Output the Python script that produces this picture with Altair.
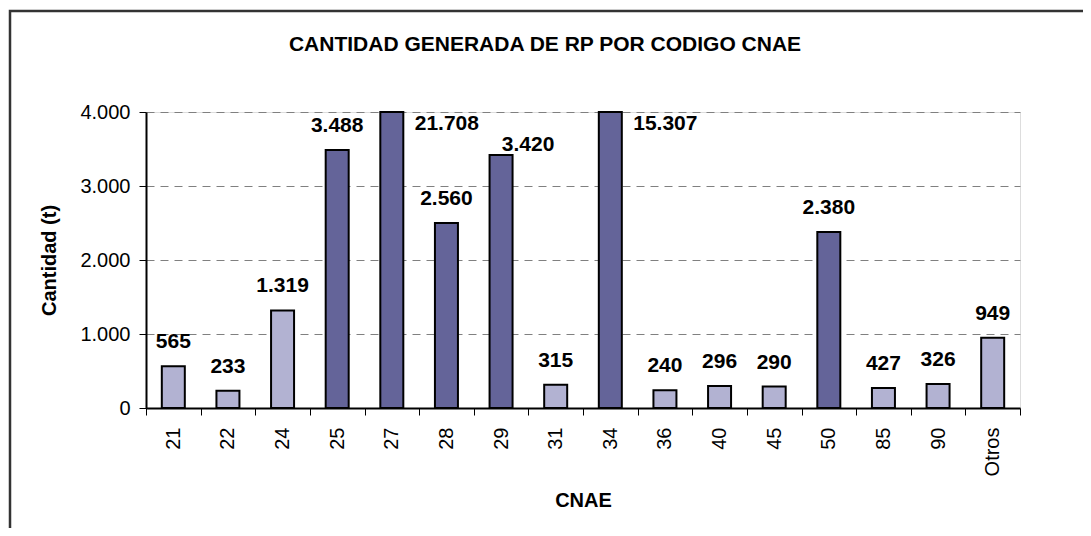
import altair as alt
import pandas as pd

# Data
cnae = ["21", "22", "24", "25", "27", "28", "29", "31", "34", "36", "40", "45", "50", "85", "90", "Otros"]
cantidad = [565, 233, 1319, 3488, 21708, 2500, 3420, 315, 15307, 240, 296, 290, 2380, 270, 326, 949]
etiqueta = [565, 233, 1319, 3488, 21708, 2560, 3420, 315, 15307, 240, 296, 290, 2380, 427, 326, 949]
grupo = ["b", "b", "b", "a", "a", "a", "a", "b", "a", "b", "b", "b", "a", "b", "b", "b"]
y_ticks = [0, 1000, 2000, 3000, 4000]
titulo = "CANTIDAD GENERADA DE RP POR CODIGO CNAE"

df = pd.DataFrame({"cnae": cnae, "cantidad": cantidad, "etiqueta": etiqueta, "grupo": grupo})

FONT = "Liberation Sans"

x_enc = alt.X(
    "cnae:N",
    sort=cnae,
    title="CNAE",
    scale=alt.Scale(paddingInner=0, paddingOuter=0),
    axis=alt.Axis(
        labelAngle=-90,
        labelFontSize=20,
        labelFont=FONT,
        labelColor="#000000",
        labelPadding=12,
        tickBand="extent",
        tickSize=7,
        tickColor="#000000",
        tickWidth=1,
        domainColor="#000000",
        domainWidth=2,
        titleFontSize=20,
        titleFont=FONT,
        titleFontWeight="bold",
        titlePadding=15,
        grid=False,
    ),
)

y_scale = alt.Scale(domain=[0, 4000], clamp=True, nice=False)

y_enc = alt.Y(
    "cantidad:Q",
    scale=y_scale,
    title="Cantidad (t)",
    axis=alt.Axis(
        values=y_ticks,
        labelExpr="replace(format(datum.value, ','), ',', '.')",
        labelFontSize=20,
        labelFont=FONT,
        labelColor="#000000",
        labelPadding=9,
        tickSize=7,
        tickColor="#000000",
        domainColor="#000000",
        domainWidth=2,
        grid=True,
        gridColor="#808080",
        gridDash=[8, 6],
        gridWidth=1,
        titleFontSize=20,
        titleFont=FONT,
        titleFontWeight="bold",
        titlePadding=20,
    ),
)

base = alt.Chart(df)

bars = base.mark_bar(width=23, stroke="#000000", strokeWidth=2).encode(
    x=x_enc,
    y=y_enc,
    color=alt.Color(
        "grupo:N",
        scale=alt.Scale(domain=["a", "b"], range=["#646499", "#B2B2D2"]),
        legend=None,
    ),
)

text_base = base.transform_calculate(
    txt="replace(format(datum.etiqueta, ','), ',', '.')"
)

label_style = dict(fontSize=21, font=FONT, fontWeight="bold", color="#000000", baseline="middle")

labels_normal = text_base.transform_filter(
    "indexof(['27','29','34'], datum.cnae) < 0"
).mark_text(dy=-24, **label_style).encode(
    x=alt.X("cnae:N", sort=cnae),
    y=alt.Y("cantidad:Q", scale=y_scale),
    text="txt:N",
)

labels_big = text_base.transform_filter(
    "datum.cnae == '27' || datum.cnae == '34'"
).mark_text(dx=55, dy=12, **label_style).encode(
    x=alt.X("cnae:N", sort=cnae),
    y=alt.Y("cantidad:Q", scale=y_scale),
    text="txt:N",
)

labels_29 = text_base.transform_filter(
    "datum.cnae == '29'"
).mark_text(dx=27, dy=-10, **label_style).encode(
    x=alt.X("cnae:N", sort=cnae),
    y=alt.Y("cantidad:Q", scale=y_scale),
    text="txt:N",
)

single = alt.Chart(pd.DataFrame({"t": [titulo]}))

title_mark = single.mark_text(
    fontSize=21, font=FONT, fontWeight="bold", color="#000000", align="center", baseline="middle"
).encode(x=alt.value(399), y=alt.value(-67), text="t:N")

frame = single.mark_rect(
    fill=None, stroke="#333333", strokeWidth=2.5
).encode(
    x=alt.value(-136), x2=alt.value(1000), y=alt.value(-101), y2=alt.value(500)
)

chart = alt.layer(frame, title_mark, bars, labels_normal, labels_big, labels_29).properties(
    width=874,
    height=296,
    padding={"left": 138, "top": 104, "right": 63, "bottom": 120},
    autosize=alt.AutoSizeParams(type="none"),
).configure_view(
    stroke="#808080", strokeWidth=2
).configure(background="#ffffff")

chart.save("out.html", embed_options={"renderer": "svg", "actions": False})
